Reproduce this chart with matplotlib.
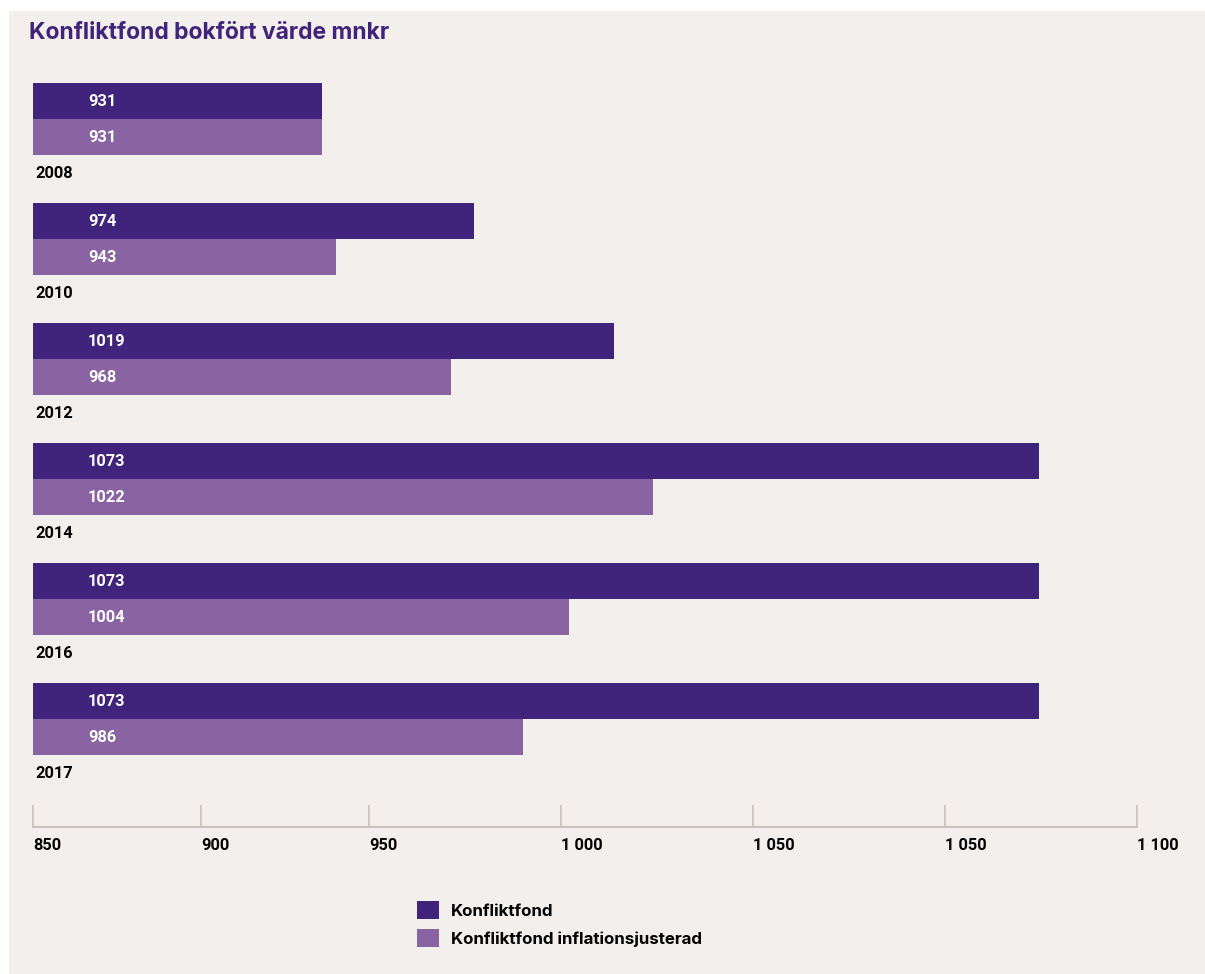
import matplotlib.pyplot as plt
from matplotlib.patches import Rectangle, Patch

# Data as printed on the chart
years = ['2008', '2010', '2012', '2014', '2016', '2017']
fond_labels = [931, 974, 1019, 1073, 1073, 1073]
infl_labels = [931, 943, 968, 1022, 1004, 986]

# Bar lengths as drawn (first ticks: 50 units = 168 px)
fond_drawn = [936.0, 981.3, 1022.9, 1149.4, 1149.4, 1149.4]
infl_drawn = [936.0, 940.2, 974.4, 1034.5, 1009.5, 995.8]

# Axis ticks as drawn (spacing in the original is uneven)
tick_pos = [850, 900, 950, 1007.1, 1064.3, 1121.4, 1178.6]
tick_labels = ['850', '900', '950', '1 000', '1 050', '1 050', '1 100']

dark = '#40237a'
light = '#8a63a3'
bg = '#f3efec'
axis_col = '#c9c1bb'
NUM_FONT = 'Roboto'   # digits
TXT_FONT = 'Inter'    # words
FS = 11.8

W, H = 1205, 974
fig = plt.figure(figsize=(W / 100, H / 100), dpi=100, facecolor='white')

# background panel
fig.patches.append(Rectangle((9 / W, 0), 1 - 9 / W, 1 - 11 / H,
                             transform=fig.transFigure, facecolor=bg,
                             edgecolor='none', zorder=-1))

ax = fig.add_axes([33 / W, (H - 827) / H, 1104 / W, (827 - 83) / H])
ax.set_facecolor('none')

base = 850
bh = 0.3
txt = dict(textcoords='offset points', ha='left', va='center',
           fontsize=FS, fontweight='bold', family=NUM_FONT)
for i in range(len(years)):
    ax.barh(i, fond_drawn[i] - base, left=base, height=bh, color=dark)
    ax.barh(i + bh, infl_drawn[i] - base, left=base, height=bh, color=light)
    ax.annotate(str(fond_labels[i]), xy=(base, i), xytext=(55 * 0.72, 0),
                color='white', **txt)
    ax.annotate(str(infl_labels[i]), xy=(base, i + bh), xytext=(55 * 0.72, 0),
                color='white', **txt)
    ax.annotate(years[i], xy=(base, i + 0.6), xytext=(2 * 0.72, 0),
                color='black', **txt)

ax.set_xlim(850, 850 + 1104 / 3.36)
ax.set_ylim((827 - 101.5) / 120, -0.15)

for s in ['top', 'right', 'left']:
    ax.spines[s].set_visible(False)
ax.spines['bottom'].set_color(axis_col)
ax.spines['bottom'].set_linewidth(1.5)

ax.set_yticks([])
ax.set_xticks(tick_pos)
ax.set_xticklabels(tick_labels, ha='left', fontsize=FS, fontweight='bold',
                   family=NUM_FONT)
ax.tick_params(axis='x', direction='in', length=16, width=1.2,
               color=axis_col, pad=8)

fig.text(29 / W, 1 - 33 / H, 'Konfliktfond bokfört värde mnkr',
         color=dark, fontsize=16.5, fontweight='bold', family=TXT_FONT,
         ha='left', va='center')

handles = [Patch(facecolor=dark, label='Konfliktfond'),
           Patch(facecolor=light, label='Konfliktfond inflationsjusterad')]
fig.legend(handles=handles, loc='upper left',
           bbox_to_anchor=(417 / W, 1 - 901 / H), frameon=False,
           borderpad=0, borderaxespad=0, handlelength=1.3, handleheight=1.3,
           handletextpad=0.68, labelspacing=0.55,
           prop={'family': TXT_FONT, 'weight': 'bold', 'size': 12.2})

fig.savefig('out.png', dpi=100, facecolor='white')
